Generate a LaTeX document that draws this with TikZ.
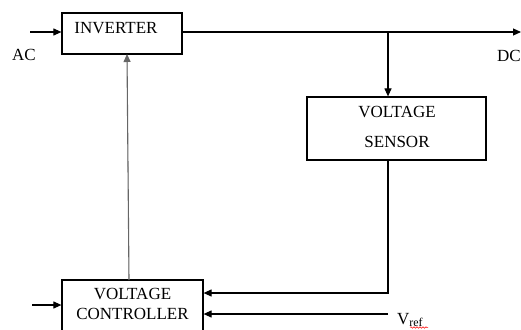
\documentclass[tikz,border=0pt]{standalone}
\usepackage{fontspec}
\setmainfont{Liberation Serif}
\usetikzlibrary{arrows.meta,decorations.pathmorphing}
\begin{document}
\begin{tikzpicture}[x=1pt,y=-1pt,
  blockbox/.style={draw,line width=1.2pt,inner sep=0pt},
  lbl/.style={font=\fontsize{17}{20}\selectfont,inner sep=0pt},
  conn/.style={line width=1.1pt,-{Triangle[length=8pt,width=7pt]}},
  plain/.style={line width=1.1pt}]
\useasboundingbox (0,0) rectangle (521,329);
\clip (0,0) rectangle (521,329);
% blocks
\node[blockbox,minimum width=120pt,minimum height=41pt] (inv) at (122,33.5) {};
\node[lbl] (invt) at (116,28) {INVERTER};
\node[blockbox,minimum width=179pt,minimum height=63pt] (sen) at (396.5,128.5) {};
\node[lbl] (sent1) at (397,112) {VOLTAGE};
\node[lbl] (sent2) at (397,142) {SENSOR};
\node[blockbox,minimum width=141pt,minimum height=70pt] (ctl) at (132.5,315) {};
\node[lbl] (ctlt1) at (132.5,294) {VOLTAGE};
\node[lbl] (ctlt2) at (132.5,314) {CONTROLLER};
% labels
\node[lbl] (ac) at (24,55) {AC};
\node[lbl] (dc) at (509,56) {DC};
\node[lbl,anchor=west] (vref) at (397,320) {V\textsubscript{ref}};
% coordinates
\coordinate (acin) at (30,32);
\coordinate (dcout) at (521,32);
\coordinate (br) at (388,32);
\coordinate (cin) at (32,305);
\coordinate (vr) at (388,314);
\coordinate (corner) at (388,293);
% connectors
\draw[conn] (acin) -- (inv.west |- acin);
\draw[conn] (inv.east |- dcout) -- (dcout);
\draw[conn] (br) -- (br |- sen.north);
\draw[conn] (sen.south -| corner) -- (corner) -- (ctl.east |- corner);
\draw[conn] (vr) -- (ctl.east |- vr);
\draw[conn] (cin) -- (ctl.west |- cin);
\draw[conn,draw=gray!80!black,fill=black] (129,280) -- (127,54);
% spell-check squiggle
\draw[red,line width=0.5pt,decorate,decoration={snake,amplitude=0.8pt,segment length=3pt}] (410,327.5) -- (428,327.5);
\end{tikzpicture}
\end{document}
